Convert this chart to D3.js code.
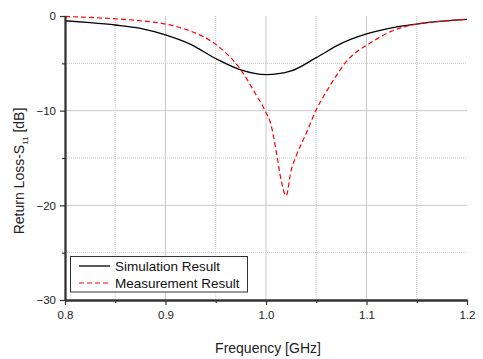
<!DOCTYPE html>
<html><head><meta charset="utf-8">
<script src="https://cdn.jsdelivr.net/npm/d3@7"></script>
<style>body{margin:0;background:#fff}svg{display:block;font-family:"Liberation Sans",Arial,sans-serif}</style>
</head><body><svg id="c" width="483" height="359"></svg>
<script>
const simFreq = [0.8,0.825,0.85,0.875,0.9,0.925,0.95,0.975,1.0,1.025,1.05,1.075,1.1,1.125,1.15,1.175,1.2];
const simVal  = [-0.5,-0.7,-0.95,-1.3,-2.0,-3.0,-4.5,-5.7,-6.2,-5.8,-4.4,-2.9,-1.9,-1.25,-0.85,-0.55,-0.35];
const measFreq = [0.8,0.825,0.85,0.875,0.9,0.925,0.95,0.975,0.99,1.0,1.005,1.01,1.015,1.02,1.025,1.03,1.04,1.05,1.06,1.07,1.08,1.09,1.1,1.125,1.15,1.175,1.2];
const measVal  = [-0.05,-0.15,-0.3,-0.5,-0.85,-1.6,-3.0,-5.7,-8.3,-10.2,-11.5,-14.2,-17.3,-19.0,-16.3,-14.8,-12.4,-9.9,-8.0,-6.3,-4.8,-3.8,-3.1,-1.6,-0.85,-0.55,-0.35];
const xTicks = [0.8,0.9,1.0,1.1,1.2];
const xMinor = [0.85,0.95,1.05,1.15];
const yTicks = [0,-10,-20,-30];
const yMinor = [-5,-15,-25];
const seriesNames = ["Simulation Result","Measurement Result"];

const svg = d3.select("#c");
const L=65,R=467,T=16,B=300;
const x = d3.scaleLinear().domain([0.8,1.2]).range([L,R]);
const y = d3.scaleLinear().domain([-30,0]).range([B,T]);

const g = svg.append("g");
// grid
g.selectAll(".gx").data(xTicks.slice(1,-1)).join("line")
 .attr("x1",d=>x(d)).attr("x2",d=>x(d)).attr("y1",T).attr("y2",B)
 .attr("stroke","#c8c8c8").attr("stroke-width",1);
g.selectAll(".gxm").data(xMinor).join("line")
 .attr("x1",d=>x(d)).attr("x2",d=>x(d)).attr("y1",T).attr("y2",B)
 .attr("stroke","#c8c8c8").attr("stroke-width",1).attr("stroke-dasharray","1,1");
g.selectAll(".gy").data(yTicks.slice(1,-1)).join("line")
 .attr("x1",L).attr("x2",R).attr("y1",d=>y(d)).attr("y2",d=>y(d))
 .attr("stroke","#c8c8c8").attr("stroke-width",1);
g.selectAll(".gym").data(yMinor).join("line")
 .attr("x1",L).attr("x2",R).attr("y1",d=>y(d)).attr("y2",d=>y(d))
 .attr("stroke","#c8c8c8").attr("stroke-width",1).attr("stroke-dasharray","1,1");

// lines
const line = d3.line().x(d=>x(d[0])).y(d=>y(d[1])).curve(d3.curveMonotoneX);
svg.append("path").datum(simFreq.map((f,i)=>[f,simVal[i]]))
 .attr("d",line).attr("fill","none").attr("stroke","#000").attr("stroke-width",1.3);
svg.append("path").datum(measFreq.map((f,i)=>[f,measVal[i]]))
 .attr("d",line).attr("fill","none").attr("stroke","#ff0000").attr("stroke-width",1.2).attr("stroke-dasharray","5,3");

// axes
const xa = svg.append("g").attr("transform",`translate(0,${B})`)
 .call(d3.axisBottom(x).tickValues(xTicks).tickFormat(d3.format(".1f")).tickSize(5).tickSizeOuter(0));
const xam = svg.append("g").attr("transform",`translate(0,${B})`)
 .call(d3.axisBottom(x).tickValues(xMinor).tickFormat("").tickSize(3).tickSizeOuter(0));
const ya = svg.append("g").attr("transform",`translate(${L},0)`)
 .call(d3.axisLeft(y).tickValues(yTicks).tickFormat(d3.format("d")).tickSize(5).tickSizeOuter(0));
const yam = svg.append("g").attr("transform",`translate(${L},0)`)
 .call(d3.axisLeft(y).tickValues(yMinor).tickFormat("").tickSize(3).tickSizeOuter(0));
[xa,xam,ya,yam].forEach(a=>{
  a.select(".domain").attr("stroke","#333").attr("stroke-width",1.8);
  a.selectAll(".tick line").attr("stroke","#333").attr("stroke-width",1.2);
  a.selectAll("text").attr("font-size",11.5).attr("fill","#222").attr("font-family","Liberation Sans, Arial, sans-serif");
});
xa.selectAll("text").attr("dy","0.95em");
ya.selectAll("text").attr("dx","-1");

// titles
svg.append("text").attr("x",268).attr("y",353).attr("text-anchor","middle")
 .attr("font-size",14).attr("fill","#222").text("Frequency [GHz]");
const yt = svg.append("text").attr("transform","translate(24,171) rotate(-90)")
 .attr("text-anchor","middle").attr("font-size",14).attr("fill","#222");
yt.append("tspan").text("Return Loss-S");
yt.append("tspan").attr("font-size",8).attr("dy",4).text("11");
yt.append("tspan").attr("dy",-4).text(" [dB]");

// legend
const lg = svg.append("g");
lg.append("rect").attr("x",70.5).attr("y",256.5).attr("width",177).attr("height",35.5)
 .attr("fill","#fff").attr("stroke","#333").attr("stroke-width",1);
const styles=[{c:"#000",d:null,w:1.3},{c:"#ff0000",d:"5,3",w:1.2}];
seriesNames.forEach((n,i)=>{
  const yy = 266 + i*17;
  lg.append("line").attr("x1",79).attr("x2",110).attr("y1",yy).attr("y2",yy)
    .attr("stroke",styles[i].c).attr("stroke-width",styles[i].w).attr("stroke-dasharray",styles[i].d);
  lg.append("text").attr("x",115).attr("y",yy+5).attr("font-size",13.5).attr("fill","#111").text(n);
});
</script></body></html>
